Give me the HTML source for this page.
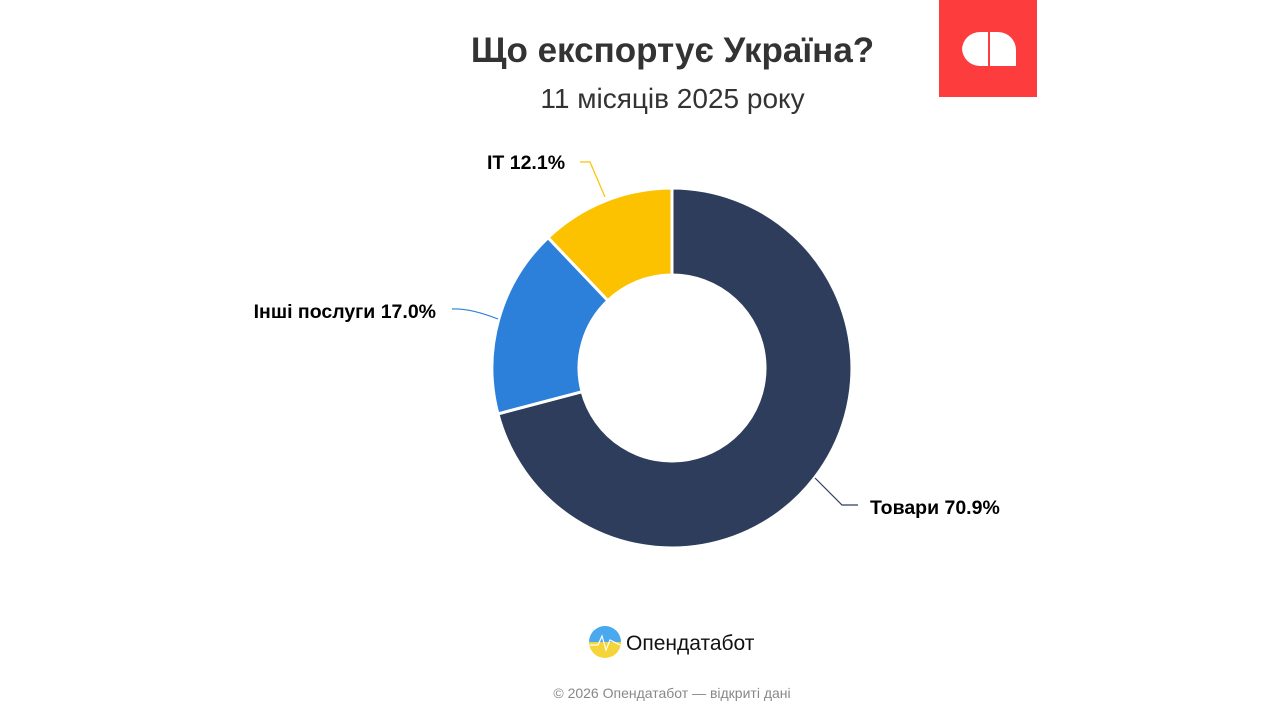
<!DOCTYPE html>
<html><head><meta charset="utf-8"><style>
body{margin:0;width:1280px;height:720px;background:#fff;overflow:hidden;font-family:"Liberation Sans",sans-serif;position:relative}
.t{position:absolute;left:0;width:1345px;text-align:center}
</style></head><body>
<div class="t" style="top:31px;font-size:35px;font-weight:bold;color:#333">Що експортує Україна?</div>
<div class="t" style="top:83px;font-size:28px;color:#333">11 місяців 2025 року</div>
<div style="position:absolute;left:939px;top:0;width:98px;height:97px;background:#fd3d3d"></div>
<svg width="1280" height="720" style="position:absolute;left:0;top:0">
<path d="M962 50 A18 18 0 0 1 980 32 L988 32 L988 66 L980 66 A18 18 0 0 1 962 48Z" fill="#fff"/>
<path d="M990 32 L998 32 A18 18 0 0 1 1016 50 L1016 66 L990 66Z" fill="#fff"/>
<g stroke="#fff" stroke-width="3" stroke-linejoin="round">
<path d="M672 188 A180 180 0 1 1 497.9 413.9 L582.1 391.7 A93 93 0 1 0 672 275Z" fill="#2e3d5c"/>
<path d="M497.9 413.9 A180 180 0 0 1 548 237.6 L607.9 300.6 A93 93 0 0 0 582.1 391.7Z" fill="#2d80d9"/>
<path d="M548 237.6 A180 180 0 0 1 672 188 L672 275 A93 93 0 0 0 607.9 300.6Z" fill="#fcc200"/>
</g>
<polyline points="815,478 842,505 858,505" fill="none" stroke="#2e3d5c" stroke-width="1.2"/>
<path d="M498 319 Q470 308 452 309" fill="none" stroke="#2d80d9" stroke-width="1.2"/>
<polyline points="605,197 590,162 580,162" fill="none" stroke="#fcc200" stroke-width="1.2"/>
<text x="870" y="514" font-size="19.5" font-weight="bold" fill="#000">Товари 70.9%</text>
<text x="436" y="318" font-size="19.5" font-weight="bold" fill="#000" text-anchor="end">Інші послуги 17.0%</text>
<text x="487" y="169" font-size="19.5" font-weight="bold" fill="#000">IT 12.1%</text>
<defs><linearGradient id="g" x1="0" y1="0" x2="0" y2="1"><stop offset="0.5" stop-color="#4aa8ee"/><stop offset="0.5" stop-color="#f5d43a"/></linearGradient></defs>
<circle cx="605" cy="642" r="16" fill="url(#g)"/>
<polyline points="590,645 598,645 602,636 606,650 610,640 620,645" fill="none" stroke="#fff" stroke-width="1.2"/>
<text x="626" y="650" font-size="21" fill="#111">Опендатабот</text>
<text x="672" y="698" font-size="14" fill="#888" text-anchor="middle">© 2026 Опендатабот — відкриті дані</text>
</svg>
</body></html>
